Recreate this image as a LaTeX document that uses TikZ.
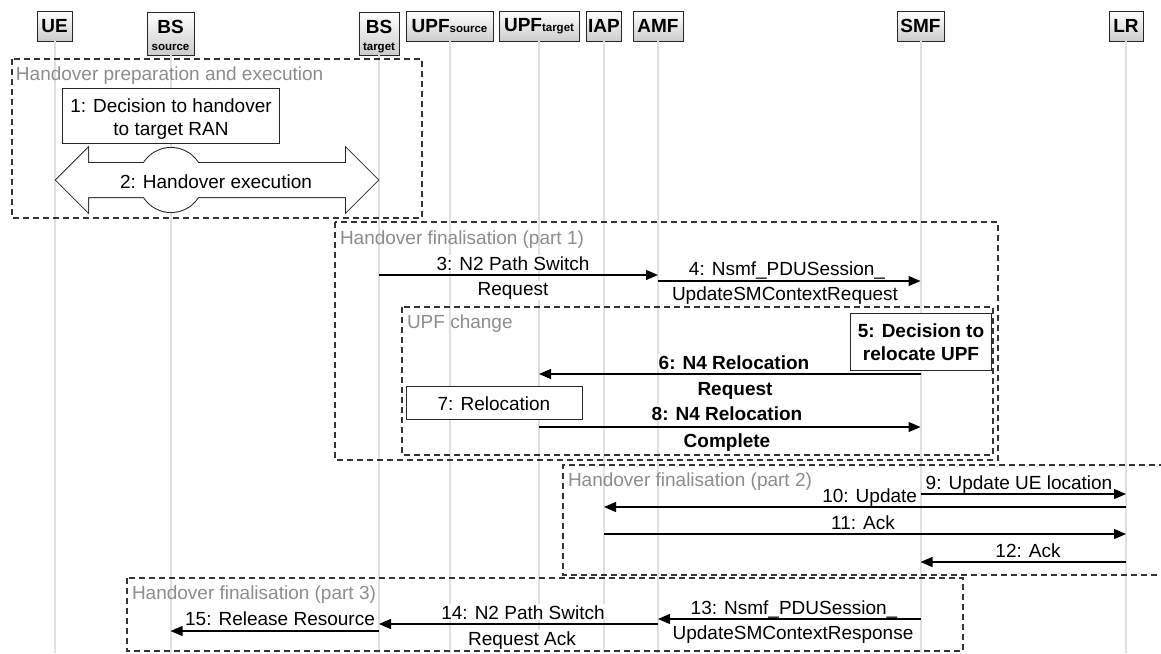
\documentclass[tikz,border=0pt]{standalone}
\usepackage{fontspec}
\setmainfont{Liberation Sans}
\usetikzlibrary{arrows.meta}
\begin{document}
\begin{tikzpicture}[x=1pt,y=-1pt,
  every node/.style={inner sep=0pt, outer sep=0pt},
  actor/.style={draw=black!85, line width=1pt, top color=white, bottom color=black!20, minimum height=30pt},
  hdr/.style={font=\bfseries\fontsize{19}{20}\selectfont},
  subhdr/.style={font=\bfseries\fontsize{11.5}{12}\selectfont},
  life/.style={draw=black!12, line width=2pt},
  frame/.style={draw=black!80, line width=1.1pt, dash pattern=on 6pt off 4pt},
  ftitle/.style={anchor=west, text=black!45, font=\fontsize{19}{20}\selectfont},
  msg/.style={draw=black, line width=1.2pt, -{Triangle[length=12pt,width=10pt]}},
  lbl/.style={anchor=base, fill=white, inner sep=1pt, font=\fontsize{19}{20}\selectfont},
  blbl/.style={lbl, font=\bfseries\fontsize{19}{20}\selectfont},
  note/.style={draw=black!85, fill=white, line width=1pt},
  ntext/.style={anchor=base, font=\fontsize{19}{20}\selectfont},
  bntext/.style={anchor=base, font=\bfseries\fontsize{19}{20}\selectfont},
]
\useasboundingbox (0,0) rectangle (1161,653);
\coordinate (bot) at (0,653);

% participant headers
\node[actor, hdr, minimum width=35pt] (ue) at (54.5,26) {UE};
\node[actor, minimum width=47pt, minimum height=43pt] (bss) at (170.5,33.5) {};
\node[actor, minimum width=40pt, minimum height=43pt] (bst) at (379,33.5) {};
\node[actor, hdr, minimum width=87pt] (upfs) at (449.5,26) {UPF{\fontsize{11.5}{12}\selectfont source}};
\node[actor, hdr, minimum width=80pt] (upft) at (539,26) {UPF{\fontsize{11.5}{12}\selectfont target}};
\node[actor, hdr, minimum width=35pt] (iap) at (604,26) {IAP};
\node[actor, hdr, minimum width=50pt] (amf) at (658,26) {AMF};
\node[actor, hdr, minimum width=47pt] (smf) at (920.5,26) {SMF};
\node[actor, hdr, minimum width=34pt] (lr) at (1126,26) {LR};

% lifelines
\foreach \p in {ue,bss,bst,upfs,upft,iap,amf,smf,lr}
  \draw[life] (\p.south) -- (\p.south |- bot);

% header texts of the two base stations
\node[hdr, anchor=base] (bss-a) at (170.5,33) {BS};
\node[subhdr, anchor=base] (bss-b) at (170.5,50) {source};
\node[hdr, anchor=base] (bst-a) at (379,33) {BS};
\node[subhdr, anchor=base] (bst-b) at (379,50) {target};

% combined fragments
\draw[frame] (12,59) rectangle (422,218);
\node[ftitle] (f1) at (16,76) {Handover preparation and execution};
\draw[frame] (335,222) rectangle (998,460);
\node[ftitle] (f2) at (340,240) {Handover finalisation (part 1)};
\draw[frame] (402,307) rectangle (993,455);
\node[ftitle] (f3) at (407,324) {UPF change};
\begin{scope}
  \clip (0,0) rectangle (1161,653);
  \draw[frame] (1175,465) -- (563,465) -- (563,575) -- (1175,575);
\end{scope}
\node[ftitle] (f4) at (568,482) {Handover finalisation (part 2)};
\draw[frame] (127,578) rectangle (963,651);
\node[ftitle] (f5) at (132,595) {Handover finalisation (part 3)};

% step 1
\node[note, minimum width=217pt, minimum height=55pt] (n1) at (170.5,115.5) {};
\node[ntext] (n1a) at (171,112) {1: Decision to handover};
\node[ntext] (n1b) at (171,135) {to target RAN};

% step 2: two-way block arrow merged with a circle
\def\hoarrow{(56,180) -- (88,148) -- (88,163) -- (346,163) -- (346,148) -- (378,180) -- (346,212) -- (346,197) -- (88,197) -- (88,212) -- cycle}
\draw[black!85, line width=2pt, line join=miter] \hoarrow;
\draw[black!85, line width=2pt] (171,180) circle (32pt);
\fill[white] \hoarrow;
\fill[white] (171,180) circle (32pt);
\node[ntext] (n2) at (216,188) {2: Handover execution};

% step 5 and step 7
\node[note, minimum width=141pt, minimum height=57pt] (n5) at (920.5,341.5) {};
\node[bntext] (n5a) at (921,337) {5: Decision to};
\node[bntext] (n5b) at (921,360) {relocate UPF};
\node[note, minimum width=176pt, minimum height=33pt] (n7) at (494,402.5) {};
\node[ntext] (n7a) at (494,410) {7: Relocation};

% message labels (white backing hides the lifelines behind them)
\node[lbl] (l3a) at (513,270) {3: N2 Path Switch};
\node[lbl] (l3b) at (513,295) {Request};
\node[lbl] (l4a) at (787,275) {4: Nsmf\_PDUSession\_};
\node[lbl] (l4b) at (785,300) {UpdateSMContextRequest};
\node[blbl] (l6a) at (734,369) {6: N4 Relocation};
\node[blbl] (l6b) at (735,395) {Request};
\node[blbl] (l8a) at (727,420) {8: N4 Relocation};
\node[blbl] (l8b) at (727,447) {Complete};
\node[lbl] (l9) at (1019,489) {9: Update UE location};
\node[lbl, anchor=base east] (l10) at (918,502) {10: Update};
\node[lbl] (l11) at (863,529) {11: Ack};
\node[lbl] (l12) at (1028,557) {12: Ack};
\node[lbl] (l13a) at (794,614) {13: Nsmf\_PDUSession\_};
\node[lbl] (l13b) at (793,639) {UpdateSMContextResponse};
\node[lbl] (l14a) at (523,619) {14: N2 Path Switch};
\node[lbl] (l14b) at (522,645) {Request Ack};
\node[lbl] (l15) at (280,625) {15: Release Resource};

% message levels
\coordinate (y3) at (0,275);
\coordinate (y4) at (0,281);
\coordinate (y6) at (0,374);
\coordinate (y8) at (0,427);
\coordinate (y9) at (0,494);
\coordinate (y10) at (0,507);
\coordinate (y11) at (0,534);
\coordinate (y12) at (0,562);
\coordinate (y13) at (0,619);
\coordinate (y14) at (0,624);
\coordinate (y15) at (0,631);

% messages
\draw[msg] (bst |- y3) -- (amf |- y3);
\draw[msg] (amf |- y4) -- (smf |- y4);
\draw[msg] (smf |- y6) -- (upft |- y6);
\draw[msg] (upft |- y8) -- (smf |- y8);
\draw[msg] (smf |- y9) -- (lr |- y9);
\draw[msg] (lr |- y10) -- (iap |- y10);
\draw[msg] (iap |- y11) -- (lr |- y11);
\draw[msg] (lr |- y12) -- (smf |- y12);
\draw[msg] (smf |- y13) -- (amf |- y13);
\draw[msg] (amf |- y14) -- (bst |- y14);
\draw[msg] (bst |- y15) -- (bss |- y15);
\end{tikzpicture}
\end{document}
